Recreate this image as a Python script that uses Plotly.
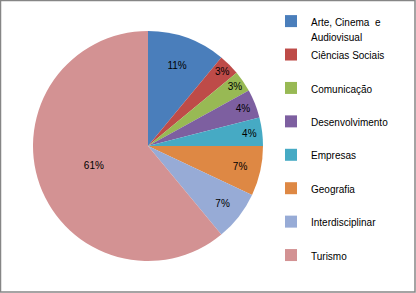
import plotly.graph_objects as go

categories = ["Arte, Cinema  e<br>Audiovisual", "Ciências Sociais", "Comunicação",
              "Desenvolvimento", "Empresas", "Geografia", "Interdisciplinar", "Turismo"]
values = [11, 3, 3, 4, 4, 7, 7, 61]
colors = ["#4A7EBB", "#BE4B48", "#98B954", "#7D5FA0", "#46AAC4", "#DE8844", "#97ABD6", "#D39293"]

W, H = 416, 293
cx, cy, r = 148, 146, 115

def label(c):
    if "<br>" in c:
        a, b = c.split("<br>")
        return f"<span style='font-size:10px'>{a}</span><br><span style='font-size:10px'>{b}</span>"
    return f"<span style='font-size:10px'>{c}</span><br><span style='font-size:10px'>&nbsp;</span>"

fig = go.Figure(go.Pie(
    labels=[label(c) for c in categories],
    values=values,
    sort=False,
    direction="clockwise",
    rotation=0,
    marker=dict(colors=colors, line=dict(width=0)),
    texttemplate="%{percent:.0%}",
    textposition="inside",
    insidetextorientation="horizontal",
    textfont=dict(family="Liberation Sans", size=10, color="#000000"),
    hoverinfo="label+percent",
    domain=dict(x=[(cx - r) / W, (cx + r) / W], y=[(H - cy - r) / H, (H - cy + r) / H]),
))

fig.update_layout(
    width=W, height=H,
    margin=dict(l=0, r=0, t=0, b=0, autoexpand=False),
    paper_bgcolor="white",
    plot_bgcolor="white",
    font=dict(family="Liberation Sans", color="#000000"),
    legend=dict(
        x=271 / W, xanchor="left", xref="container",
        y=1 - 7 / H, yanchor="top", yref="container",
        maxheight=400,
        font=dict(family="Liberation Sans", size=11.7, color="#000000"),
        valign="top", bgcolor="rgba(0,0,0,0)",
        traceorder="normal",
    ),
    shapes=[dict(type="rect", xref="paper", yref="paper",
                 x0=0.5 / W, x1=1 - 1 / W, y0=1 / H, y1=1 - 0.5 / H,
                 line=dict(color="#868686", width=1.5), fillcolor="rgba(0,0,0,0)")],
)

fig.write_html("out.html", config={"displayModeBar": False},
               post_script="document.body.style.margin='0';document.body.style.overflow='hidden';")
